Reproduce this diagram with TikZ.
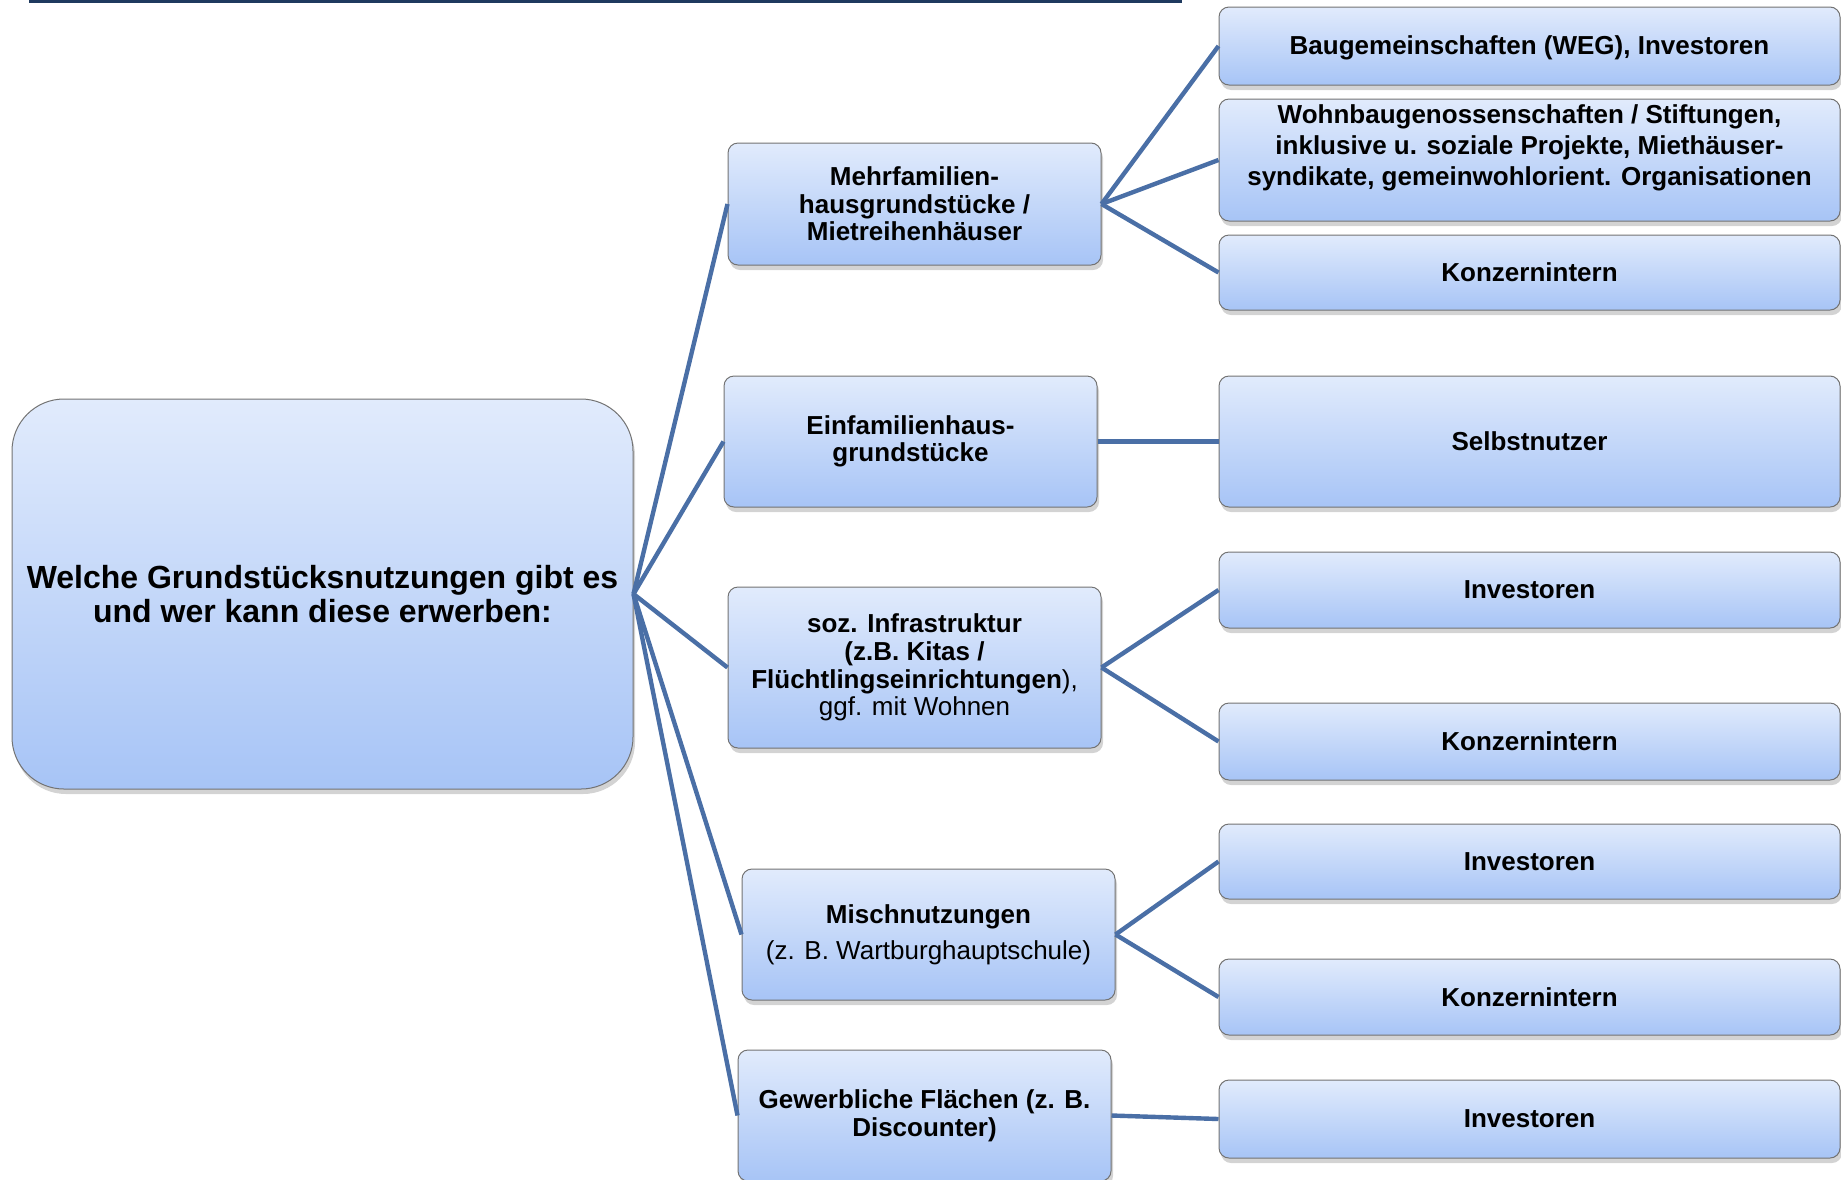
\documentclass[tikz,border=0pt]{standalone}
\usepackage{fontspec}
\setmainfont{Liberation Sans}
\usepackage{xcolor}
\usetikzlibrary{shadows}

\definecolor{boxtop}{HTML}{E1EBFC}
\definecolor{boxbot}{HTML}{A7C4F6}
\definecolor{linkblue}{HTML}{4A6FA6}
\definecolor{topline}{HTML}{1F3A5F}

\tikzset{
  kasten/.style={rectangle, rounded corners=5pt, draw=black!55, line width=0.5pt,
    top color=boxtop, bottom color=boxbot, align=center, inner sep=2pt,
    drop shadow={opacity=0.35, shadow xshift=1pt, shadow yshift=-2.5pt}},
  wurzel/.style={kasten, rounded corners=26pt, minimum width=310.5pt, minimum height=195pt,
    font=\bfseries\fontsize{16}{17}\selectfont},
  nutzung/.style={kasten, minimum width=186.5pt, font=\bfseries\fontsize{13}{13.8}\selectfont},
  erwerber/.style={kasten, minimum width=310.5pt, font=\bfseries\fontsize{13}{15.5}\selectfont},
  verbindung/.style={draw=linkblue, line width=2.2pt}
}

\begin{document}
\begin{tikzpicture}[x=0.5pt, y=-0.5pt]
			\useasboundingbox (0,0) rectangle (1841,1179);
			\draw[topline, line width=1.5pt] (29,1.2) -- (1182,1.2);
			
			\node[wurzel] (frage) at (322.5,594) {Welche Grundstücksnutzungen gibt es\\und wer kann diese erwerben:};
			
			\node[nutzung, minimum height=61pt] (mfh) at (914.5,204) {Mehrfamilien-\\hausgrundstücke /\\Mietreihenhäuser};
			\node[nutzung, minimum height=65.5pt] (efh) at (910.5,441.5) {Einfamilienhaus-\\grundstücke};
			\node[nutzung, minimum height=80.5pt] (soz) at (914.5,667.5) {soz. Infrastruktur\\(z.B. Kitas /\\Flüchtlingseinrichtungen\textmd{),}\\\textmd{ggf. mit Wohnen}};
			\node[nutzung, minimum height=65.5pt] (misch) at (928.5,934.5) {Mischnutzungen\\[4pt]\textmd{(z. B. Wartburghauptschule)}};
			\node[nutzung, minimum height=65.5pt] (gew) at (924.5,1115.5) {Gewerbliche Flächen (z. B.\\Discounter)};
			
			\node[erwerber, minimum height=39pt, text depth=1pt] (weg) at (1529.5,46) {Baugemeinschaften (WEG), Investoren};
			\node[erwerber, minimum height=61pt, text depth=14.5pt] (geno) at (1529.5,160) {Wohnbaugenossenschaften / Stiftungen,\\inklusive u. soziale Projekte, Miethäuser-\\syndikate, gemeinwohlorient. Organisationen};
			\node[erwerber, minimum height=37.5pt] (konz1) at (1529.5,272.5) {Konzernintern};
			\node[erwerber, minimum height=65.5pt] (selbst) at (1529.5,441.5) {Selbstnutzer};
			\node[erwerber, minimum height=38pt] (inv1) at (1529.5,590) {Investoren};
			\node[erwerber, minimum height=38.5pt] (konz2) at (1529.5,741.5) {Konzernintern};
			\node[erwerber, minimum height=37.5pt] (inv2) at (1529.5,861.5) {Investoren};
			\node[erwerber, minimum height=38pt] (konz3) at (1529.5,997) {Konzernintern};
			\node[erwerber, minimum height=39pt] (inv3) at (1529.5,1119) {Investoren};
			
			\draw (frage.east) edge[verbindung] (mfh.west);
			\draw (frage.east) edge[verbindung] (efh.west);
			\draw (frage.east) edge[verbindung] (soz.west);
			\draw (frage.east) edge[verbindung] (misch.west);
			\draw (frage.east) edge[verbindung] (gew.west);
			\draw (mfh.east) edge[verbindung] (weg.west);
			\draw (mfh.east) edge[verbindung] (geno.west);
			\draw (mfh.east) edge[verbindung] (konz1.west);
			\draw (efh.east) edge[verbindung] (selbst.west);
			\draw (soz.east) edge[verbindung] (inv1.west);
			\draw (soz.east) edge[verbindung] (konz2.west);
			\draw (misch.east) edge[verbindung] (inv2.west);
			\draw (misch.east) edge[verbindung] (konz3.west);
			\draw (gew.east) edge[verbindung] (inv3.west);
			
		\end{tikzpicture}
\end{document}
